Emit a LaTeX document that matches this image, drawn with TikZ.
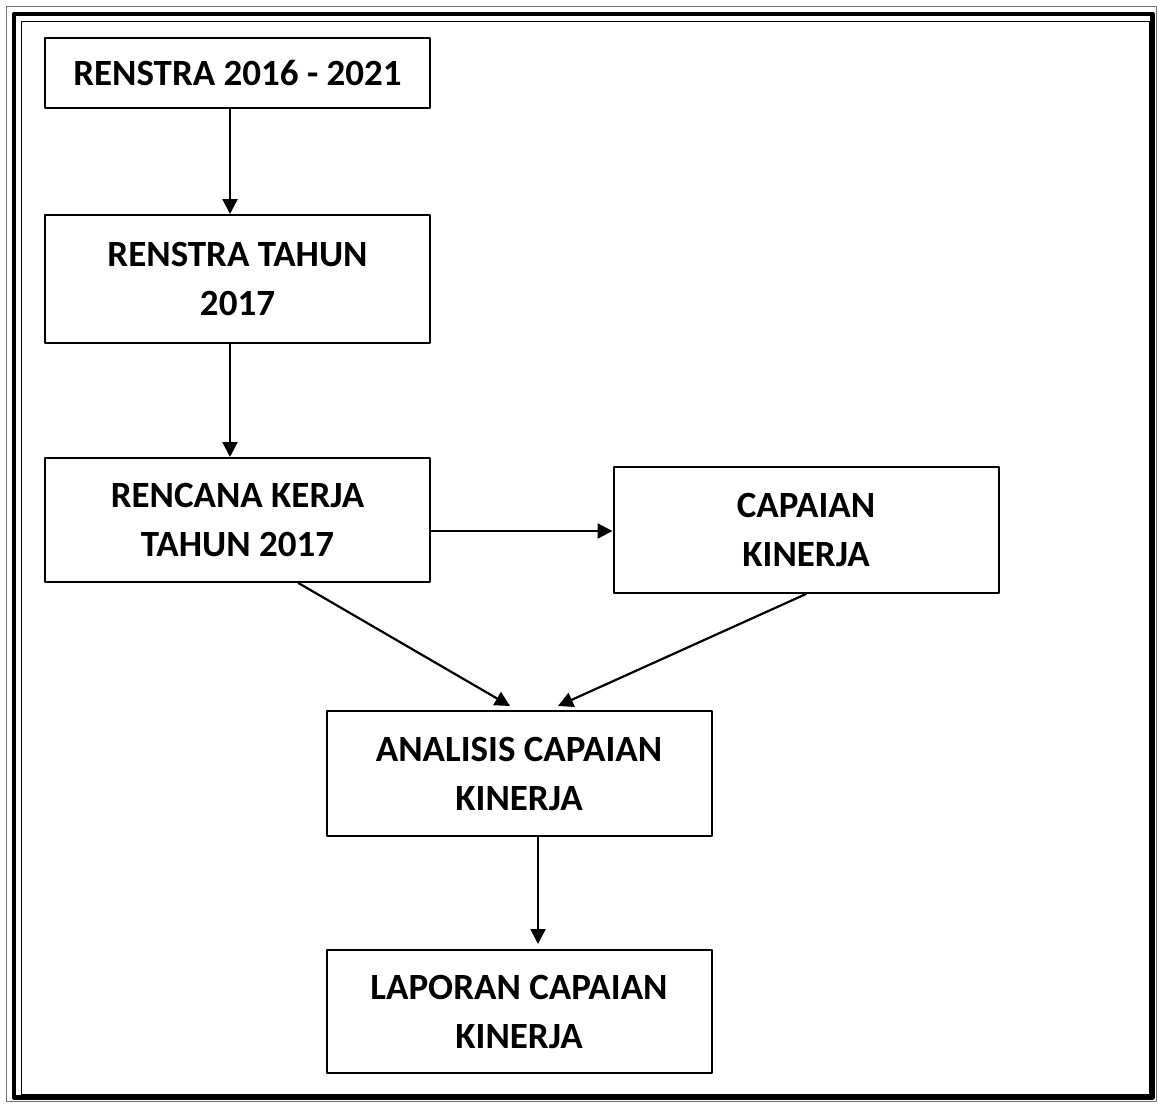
\documentclass[tikz,border=0pt]{standalone}
\usepackage{fontspec}
\setmainfont{Carlito}
\usetikzlibrary{arrows.meta,calc}
\definecolor{qqqqqq}{rgb}{0.,0.,0.}
\definecolor{bbbbbb}{rgb}{0.45,0.45,0.45}
\tikzset{
  kotak/.style={draw=qqqqqq,line width=2pt,minimum width=385pt,inner sep=0pt,align=center,
    font=\fontsize{37}{49}\selectfont\bfseries},
  panah/.style={->,line width=2.2pt,color=qqqqqq}
}
\begin{document}
\begin{tikzpicture}[line cap=round,line join=round,>={Triangle[length=15pt,width=15pt]},x=1pt,y=-1pt]
\useasboundingbox (0,0) rectangle (1158,1103);
% bingkai
\draw [color=bbbbbb,line width=1.5pt] (6.5,6.5) rectangle (1156.5,1101.5);
\draw [line width=4.5pt] (14,14) rectangle (1152.5,1097.5);
\draw [line width=1.5pt] (21.5,21.5) rectangle (1149.5,1094.5);
% kotak
\node [kotak,minimum height=70pt] (rs) at (237.5,73) {RENSTRA 2016 - 2021};
\node [kotak,minimum height=128pt] (rt) at (237.5,279) {RENSTRA TAHUN\\2017};
\node [kotak,minimum height=124pt] (rk) at (237.5,520) {RENCANA KERJA\\TAHUN 2017};
\node [kotak,minimum height=126pt] (cap) at (806,530) {CAPAIAN\\KINERJA};
\node [kotak,minimum height=125pt] (an) at (519,773.5) {ANALISIS CAPAIAN\\KINERJA};
\node [kotak,minimum height=123pt] (lap) at (519,1011.5) {LAPORAN CAPAIAN\\KINERJA};
% panah
\draw [panah] ([xshift=-7.5pt]rs.south) -- ([xshift=-7.5pt]rt.north);
\draw [panah] ([xshift=-7.5pt]rt.south) -- ([xshift=-7.5pt]rk.north);
\draw [panah] (rk.east |- 0,531) -- (cap.west |- 0,531);
\draw [panah] (rk.-46) -- ([xshift=-9pt,yshift=4pt]an.north);
\draw [panah] (cap.south) -- ([xshift=39pt,yshift=4pt]an.north);
\draw [panah] ([xshift=19pt]an.south) -- ([xshift=19pt,yshift=5pt]lap.north);
\end{tikzpicture}
\end{document}
